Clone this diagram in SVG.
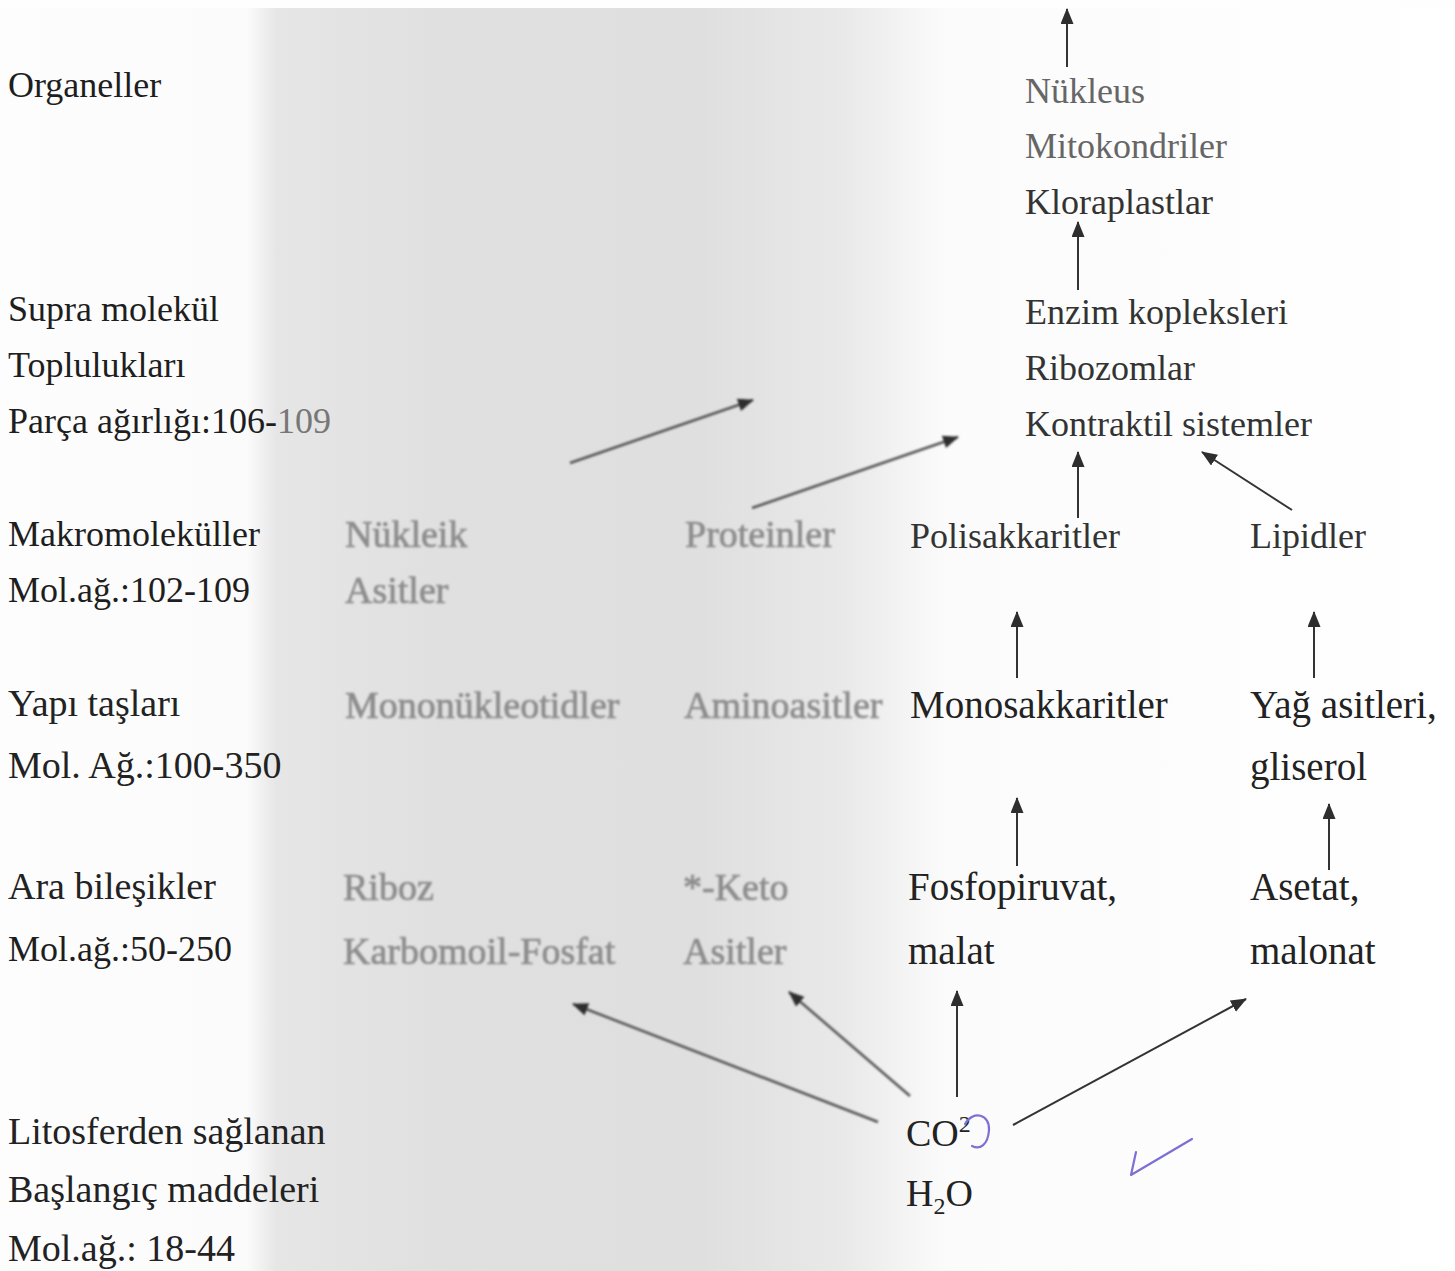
<svg xmlns="http://www.w3.org/2000/svg" width="1455" height="1271" viewBox="0 0 1455 1271">
<defs>
<linearGradient id="shade" x1="0" y1="0" x2="1455" y2="0" gradientUnits="userSpaceOnUse">
<stop offset="0" stop-color="#fdfdfd"/>
<stop offset="0.17" stop-color="#fbfbfb"/>
<stop offset="0.19" stop-color="#e6e6e6"/>
<stop offset="0.3" stop-color="#e0e0e0"/>
<stop offset="0.48" stop-color="#dfdfdf"/>
<stop offset="0.58" stop-color="#e9e9e9"/>
<stop offset="0.65" stop-color="#fbfbfb"/>
<stop offset="1" stop-color="#ffffff"/>
</linearGradient>
<filter id="blur" x="-5%" y="-30%" width="110%" height="160%"><feGaussianBlur stdDeviation="0.9"/></filter>
<marker id="ah" viewBox="0 0 16 13" refX="15" refY="6.5" markerWidth="16" markerHeight="13" markerUnits="userSpaceOnUse" orient="auto"><path d="M0,0 L16,6.5 L0,13 z" fill="#2e2e2e"/></marker>
<marker id="ahg" viewBox="0 0 16 13" refX="15" refY="6.5" markerWidth="16" markerHeight="13" markerUnits="userSpaceOnUse" orient="auto"><path d="M0,0 L16,6.5 L0,13 z" fill="#3a3a3a"/></marker>
</defs>
<style>
text{font-family:"Liberation Serif","Times New Roman",serif;}
.l{font-size:36px;fill:#1e1e1e;}
.lb{font-size:38px;fill:#222;}
.r{font-size:36px;fill:#333;}
.rg{font-size:36px;fill:#666;}
.rb{font-size:39px;fill:#222;}
.bl{font-size:38px;fill:#8c8c8c;stroke:#8c8c8c;stroke-width:0.7;filter:url(#blur);}
.c{stroke:#333;stroke-width:2;fill:none;marker-end:url(#ah);}
.cg{stroke:#bcaeae;stroke-width:4;fill:none;marker-end:url(#ahg);filter:url(#blur);}
.cs{stroke:#555;stroke-width:2.5;fill:none;marker-end:url(#ah);filter:url(#blur);}
.pen{stroke:#7c70d4;stroke-width:2.2;fill:none;stroke-linecap:round;stroke-linejoin:round;}
</style>
<rect x="0" y="0" width="1455" height="1271" fill="url(#shade)"/>
<rect x="0" y="0" width="1455" height="8" fill="#fefefe"/>

<g id="levels">
<text class="l" x="8" y="97">Organeller</text>
<text class="l" x="8" y="321">Supra molekül</text>
<text class="l" x="8" y="377">Toplulukları</text>
<text class="l" x="8" y="433">Parça ağırlığı:106-<tspan fill="#777">109</tspan></text>
<text class="l" x="8" y="546">Makromoleküller</text>
<text class="l" x="8" y="602" font-size="35">Mol.ağ.:102-109</text>
<text class="lb" x="8" y="716">Yapı taşları</text>
<text class="lb" x="8" y="778">Mol. Ağ.:100-350</text>
<text class="lb" x="8" y="899">Ara bileşikler</text>
<text class="l" x="8" y="961" font-size="37">Mol.ağ.:50-250</text>
<text class="lb" x="8" y="1144" fill="#333">Litosferden sağlanan</text>
<text class="lb" x="8" y="1202" fill="#333">Başlangıç maddeleri</text>
<text class="lb" x="8" y="1261" fill="#333">Mol.ağ.: 18-44</text>
</g>

<g id="organeller">
<text class="rg" x="1025" y="103">Nükleus</text>
<text class="rg" x="1025" y="158">Mitokondriler</text>
<text class="r" x="1025" y="214" fill="#444">Kloraplastlar</text>
</g>
<g id="supra">
<text class="r" x="1025" y="324">Enzim kopleksleri</text>
<text class="r" x="1025" y="380" fill="#444">Ribozomlar</text>
<text class="r" x="1025" y="436">Kontraktil sistemler</text>
</g>

<g id="nukleik-asitler">
<text class="bl" x="345" y="547" font-size="36">Nükleik</text>
<text class="bl" x="345" y="603" font-size="36">Asitler</text>
</g>
<g id="proteinler">
<text class="bl" x="685" y="547" font-size="36">Proteinler</text>
</g>
<g id="polisakkaritler">
<text class="r" x="910" y="548" fill="#6a6a6a">Polisakkaritler</text>
</g>
<g id="lipidler">
<text class="r" x="1250" y="548" fill="#3a3a3a">Lipidler</text>
</g>

<g id="mononukleotidler">
<text class="bl" x="345" y="718">Mononükleotidler</text>
</g>
<g id="aminoasitler">
<text class="bl" x="684" y="718" fill="#666" stroke="#666" stroke-width="0.3">Aminoasitler</text>
</g>
<g id="monosakkaritler">
<text class="rb" x="910" y="718" fill="#333">Monosakkaritler</text>
</g>
<g id="yag-asitleri">
<text class="rb" x="1250" y="718">Yağ asitleri,</text>
<text class="rb" x="1250" y="780">gliserol</text>
</g>

<g id="riboz">
<text class="bl" x="343" y="900">Riboz</text>
<text class="bl" x="343" y="964">Karbomoil-Fosfat</text>
</g>
<g id="keto-asitler">
<text class="bl" x="683" y="900" stroke-width="0.2">*-Keto</text>
<text class="bl" x="683" y="964" stroke-width="0.2">Asitler</text>
</g>
<g id="fosfopiruvat">
<text class="rb" x="908" y="900" fill="#333">Fosfopiruvat,</text>
<text class="rb" x="908" y="964" fill="#555">malat</text>
</g>
<g id="asetat">
<text class="rb" x="1250" y="900" fill="#333">Asetat,</text>
<text class="rb" x="1250" y="964" fill="#444">malonat</text>
</g>

<g id="co2-h2o">
<text class="lb" x="906" y="1146" fill="#444">CO<tspan font-size="24" dy="-14">2</tspan></text>
<text class="lb" x="906" y="1206" fill="#444">H<tspan font-size="24" dy="8">2</tspan><tspan dy="-8">O</tspan></text>
</g>

<g id="connectors">
<line class="c" x1="1067" y1="67" x2="1067" y2="9"/>
<line class="c" x1="1078" y1="290" x2="1078" y2="222"/>
<line class="cs" x1="570" y1="463" x2="753" y2="400"/>
<line class="cs" x1="752" y1="508" x2="958" y2="437"/>
<line class="c" x1="1078" y1="518" x2="1078" y2="452"/>
<line class="c" x1="1292" y1="510" x2="1202" y2="452"/>
<line class="cg" x1="382" y1="678" x2="382" y2="612"/>
<line class="cg" x1="767" y1="678" x2="767" y2="612"/>
<line class="c" x1="1017" y1="678" x2="1017" y2="612"/>
<line class="c" x1="1314" y1="678" x2="1314" y2="612"/>
<line class="cg" x1="382" y1="858" x2="382" y2="794"/>
<line class="cg" x1="767" y1="860" x2="767" y2="796"/>
<line class="c" x1="1017" y1="866" x2="1017" y2="798"/>
<line class="c" x1="1329" y1="870" x2="1329" y2="804"/>
<line class="cs" x1="878" y1="1122" x2="573" y2="1004"/>
<line class="cs" x1="910" y1="1096" x2="789" y2="992"/>
<line class="c" x1="957" y1="1097" x2="957" y2="991"/>
<line class="c" x1="1013" y1="1125" x2="1246" y2="999"/>
</g>

<g id="pen-marks">
<path class="pen" d="M965,1124 C973,1110 990,1114 989,1130 C988,1145 980,1150 972,1146"/>
<path class="pen" d="M1136,1152 L1131,1175 L1192,1139"/>
</g>
</svg>
